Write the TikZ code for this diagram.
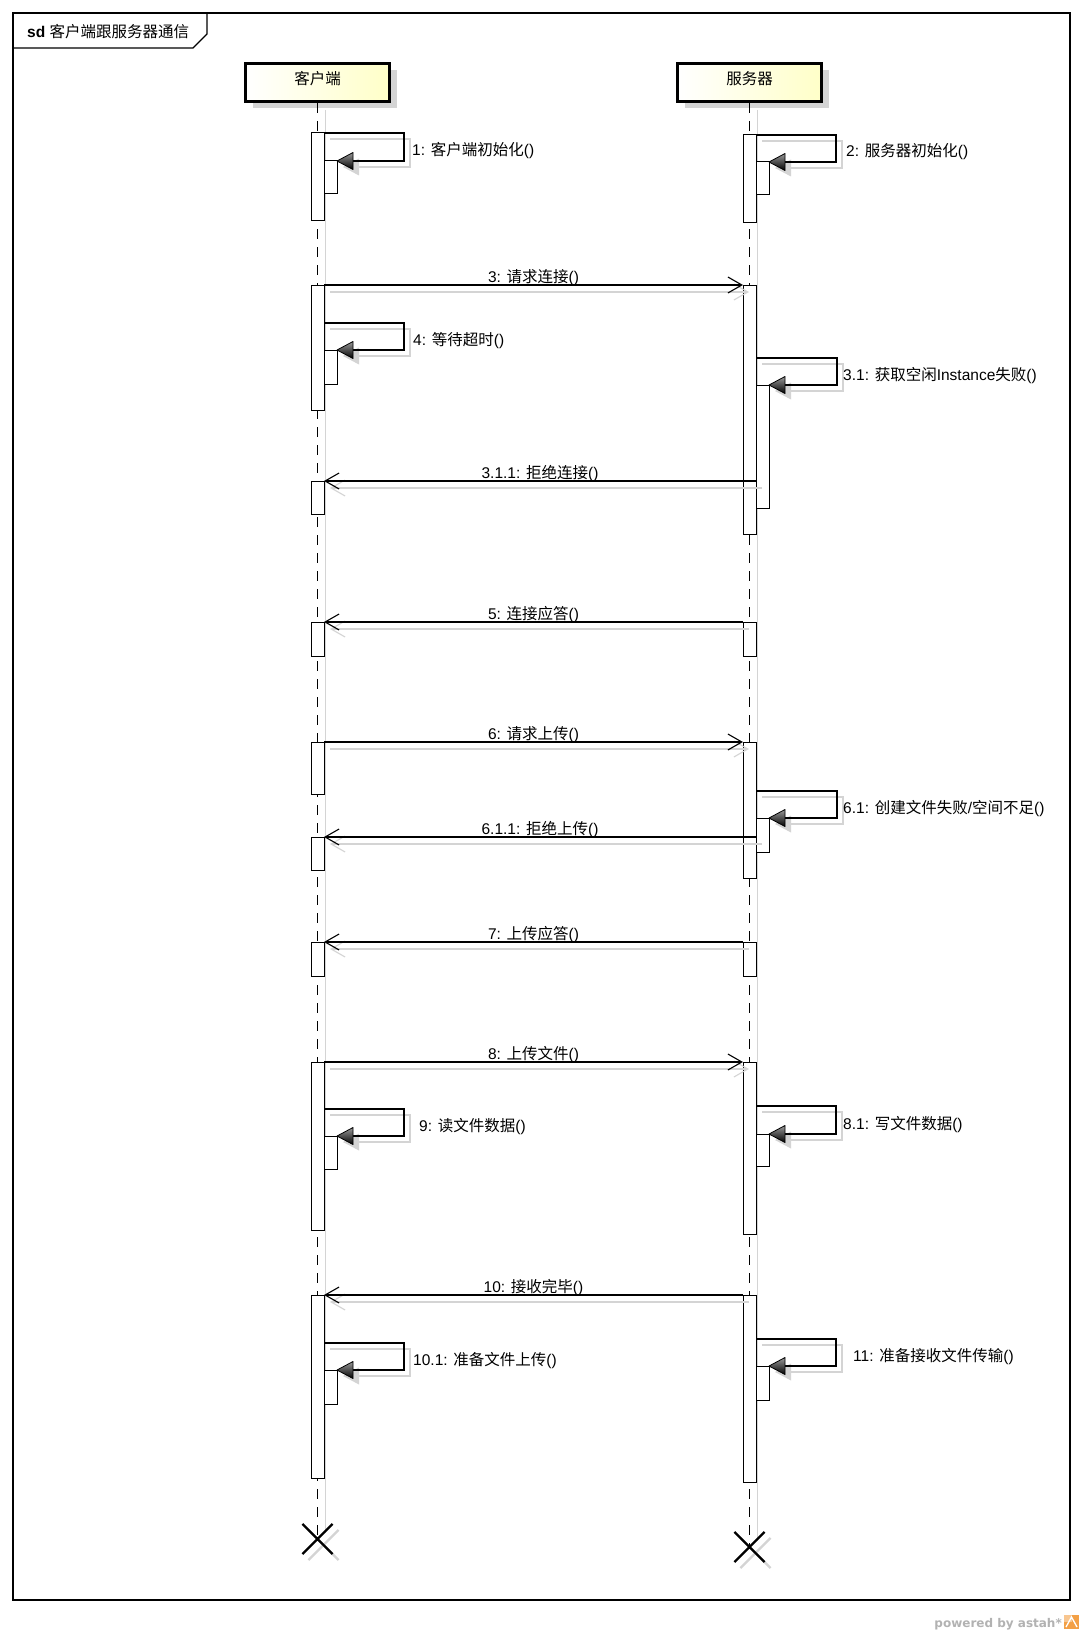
\documentclass[tikz,border=0pt]{standalone}
\usepackage{fontspec}
\setmainfont{Liberation Sans}
\newfontfamily\cjk{Noto Sans CJK SC}
\newfontfamily\creditfont{DejaVu Sans}
\usetikzlibrary{arrows.meta,shadows,shapes.misc}
\newcommand\zh[1]{{\cjk #1}}

\definecolor{headyellow}{RGB}{255,255,200}
\definecolor{shadowgray}{RGB}{212,212,212}
\definecolor{astahorange}{RGB}{243,160,70}

\tikzset{
  every node/.style={font=\fontsize{15.5}{18}\selectfont},
  head/.style={draw=black, line width=3pt, minimum width=144pt, minimum height=38pt,
    inner sep=0pt, left color=white, right color=headyellow,
    text height=12pt, text depth=8.2pt,
    drop shadow={shadow xshift=7pt, shadow yshift=-7pt, fill=shadowgray, opacity=1}},
  actbar/.style={draw=black, fill=white, line width=1pt, minimum width=13pt,
    inner sep=0pt, outer sep=0pt, anchor=north},
  lifeline/.style={line width=1pt, dash pattern=on 10pt off 8pt},
  lifeshadow/.style={line width=1pt, draw=shadowgray},
  msg/.style={line width=1.1pt, -{Straight Barb[length=14pt,width=16pt,line width=1.1pt]}},
  msgshadow/.style={line width=1.1pt, draw=shadowgray,
    -{Straight Barb[length=14pt,width=16pt,line width=1.1pt]}},
  msglabel/.style={midway, anchor=base, yshift=3pt, inner sep=0pt},
  endmark/.style={cross out, draw=black, line width=2.2pt, minimum size=28pt, inner sep=0pt},
}

% message between two bars, with its shadow and centred label
\newcommand\callmsg[4]{%
  \draw[msgshadow] ([shift={(6,7)}]#1) -- ([shift={(6,7)}]#2);
  \draw[msg] (#1) -- (#2) node[msglabel] (#3) {#4};
}

% self call: main bar, nested bar, top y, right x, label x, label
\newcommand\selfcall[6]{%
  \coordinate (#2-a) at (#1.east |- 0,#3);
  \coordinate (#2-b) at (#4,#3);
  \coordinate (#2-c) at (#2-b |- #2.north);
  \coordinate (#2-t) at (#2.north east);
  \draw[line width=1.1pt, shadowgray] ([shift={(6,6)}]#2-a) -- ([shift={(6,6)}]#2-b)
     -- ([shift={(6,6)}]#2-c) -- ([shift={(22,6)}]#2-t);
  \fill[shadowgray] ([shift={(6,6)}]#2-t) -- ++(16,-8.5) -- ++(0,17) -- cycle;
  \draw[line width=1.1pt] (#2-a) -- (#2-b) -- (#2-c) -- ([xshift=16pt]#2-t);
  \shadedraw[top color=black!40, bottom color=black, draw=black, line width=0.8pt,
     line join=round] (#2-t) -- ++(16,-8.5) -- ++(0,17) -- cycle;
  \path (#2.north) ++(0,-5) coordinate (#2-base);
  \node[anchor=base west, inner sep=0pt] (#2-l) at (#5,0 |- #2-base) {#6};
}

\begin{document}
\begin{tikzpicture}[x=1pt,y=-1pt]
\useasboundingbox[fill=white] (0,0) rectangle (1084,1640);

% frame and its name tab
\draw[line width=1.2pt] (13,13) rectangle (1070,1600);
\draw[line width=1.2pt] (13,48) -- (193,48) -- (207,34) -- (207,13);
\node[anchor=base west, inner sep=0pt] (title) at (27,38) {\textbf{sd} \zh{客户端跟服务器通信}};

% lifeline heads
\node[head] (chead) at (317.5,82.5) {\zh{客户端}};
\node[head] (shead) at (749.5,82.5) {\zh{服务器}};

% lifelines
\coordinate (cend) at (317.5,1539);
\coordinate (send) at (749.5,1547);
\draw[lifeshadow] ([shift={(8,7)}]chead.south) -- ([shift={(8,-6)}]cend);
\draw[lifeshadow] ([shift={(8,7)}]shead.south) -- ([shift={(8,-6)}]send);
\draw[lifeline] (chead.south) -- (cend);
\draw[lifeline] (shead.south) -- (send);

% client activation bars
\node[actbar, minimum height=87pt]  (ca1) at (317.5,133)  {};
\node[actbar, minimum height=125pt] (ca2) at (317.5,285)  {};
\node[actbar, minimum height=33pt]  (ca3) at (317.5,481)  {};
\node[actbar, minimum height=34pt]  (ca4) at (317.5,622)  {};
\node[actbar, minimum height=52pt]  (ca5) at (317.5,742)  {};
\node[actbar, minimum height=33pt]  (ca6) at (317.5,837)  {};
\node[actbar, minimum height=34pt]  (ca7) at (317.5,942)  {};
\node[actbar, minimum height=168pt] (ca8) at (317.5,1062) {};
\node[actbar, minimum height=183pt] (ca9) at (317.5,1295) {};
\node[actbar, minimum height=33pt]  (cn1) at (330.5,161)  {};
\node[actbar, minimum height=34pt]  (cn4) at (330.5,350)  {};
\node[actbar, minimum height=33pt]  (cn9) at (330.5,1136) {};
\node[actbar, minimum height=34pt]  (cn10) at (330.5,1370) {};

% server activation bars
\node[actbar, minimum height=87pt]  (sa1) at (749.5,135)  {};
\node[actbar, minimum height=249pt] (sa2) at (749.5,285)  {};
\node[actbar, minimum height=34pt]  (sa4) at (749.5,622)  {};
\node[actbar, minimum height=136pt] (sa5) at (749.5,742)  {};
\node[actbar, minimum height=34pt]  (sa7) at (749.5,942)  {};
\node[actbar, minimum height=172pt] (sa8) at (749.5,1062) {};
\node[actbar, minimum height=187pt] (sa9) at (749.5,1295) {};
\node[actbar, minimum height=33pt]  (sn2) at (762.5,162)  {};
\node[actbar, minimum height=123pt] (sn31) at (762.5,385) {};
\node[actbar, minimum height=34pt]  (sn61) at (762.5,818) {};
\node[actbar, minimum height=32pt]  (sn81) at (762.5,1134) {};
\node[actbar, minimum height=34pt]  (sn11) at (762.5,1366) {};

% calls between the two lifelines
\coordinate (m311) at (sn31.west |- ca3.north);
\coordinate (m611) at (sn61.west |- ca6.north);
\callmsg{ca2.north east}{sa2.north west}{l3}{3: \zh{请求连接}()}
\callmsg{m311}{ca3.north east}{l311}{3.1.1: \zh{拒绝连接}()}
\callmsg{sa4.north west}{ca4.north east}{l5}{5: \zh{连接应答}()}
\callmsg{ca5.north east}{sa5.north west}{l6}{6: \zh{请求上传}()}
\callmsg{m611}{ca6.north east}{l611}{6.1.1: \zh{拒绝上传}()}
\callmsg{sa7.north west}{ca7.north east}{l7}{7: \zh{上传应答}()}
\callmsg{ca8.north east}{sa8.north west}{l8}{8: \zh{上传文件}()}
\callmsg{sa9.north west}{ca9.north east}{l10}{10: \zh{接收完毕}()}

% self calls
\selfcall{ca1}{cn1}{133}{404}{412}{1: \zh{客户端初始化}()}
\selfcall{sa1}{sn2}{135}{836}{846}{2: \zh{服务器初始化}()}
\selfcall{ca2}{cn4}{323}{404}{413}{4: \zh{等待超时}()}
\selfcall{sa2}{sn31}{358}{837}{843}{3.1: \zh{获取空闲}Instance\zh{失败}()}
\selfcall{sa5}{sn61}{791}{837}{843}{6.1: \zh{创建文件失败}/\zh{空间不足}()}
\selfcall{ca8}{cn9}{1109}{404}{419}{9: \zh{读文件数据}()}
\selfcall{sa8}{sn81}{1106}{836}{843}{8.1: \zh{写文件数据}()}
\selfcall{ca9}{cn10}{1343}{404}{413}{10.1: \zh{准备文件上传}()}
\selfcall{sa9}{sn11}{1339}{836}{853}{11: \zh{准备接收文件传输}()}

% lifeline ends
\node[endmark, draw=shadowgray] (cxs) at ([shift={(6,6)}]cend) {};
\node[endmark, draw=shadowgray] (sxs) at ([shift={(6,6)}]send) {};
\node[endmark] (cx) at (cend) {};
\node[endmark] (sx) at (send) {};

% tool credit
\node[anchor=base east, inner sep=0pt, text=black!30,
  font=\creditfont\bfseries\fontsize{12}{14}\selectfont] (credit) at (1062,1627) {powered by astah*};
\fill[astahorange] (1064,1615) rectangle (1079,1629);
\fill[astahorange!60] (1064,1615) rectangle (1071.5,1622);
\draw[white, line width=1.3pt] (1066,1627) -- (1071.5,1617) -- (1077,1627);
\end{tikzpicture}
\end{document}
